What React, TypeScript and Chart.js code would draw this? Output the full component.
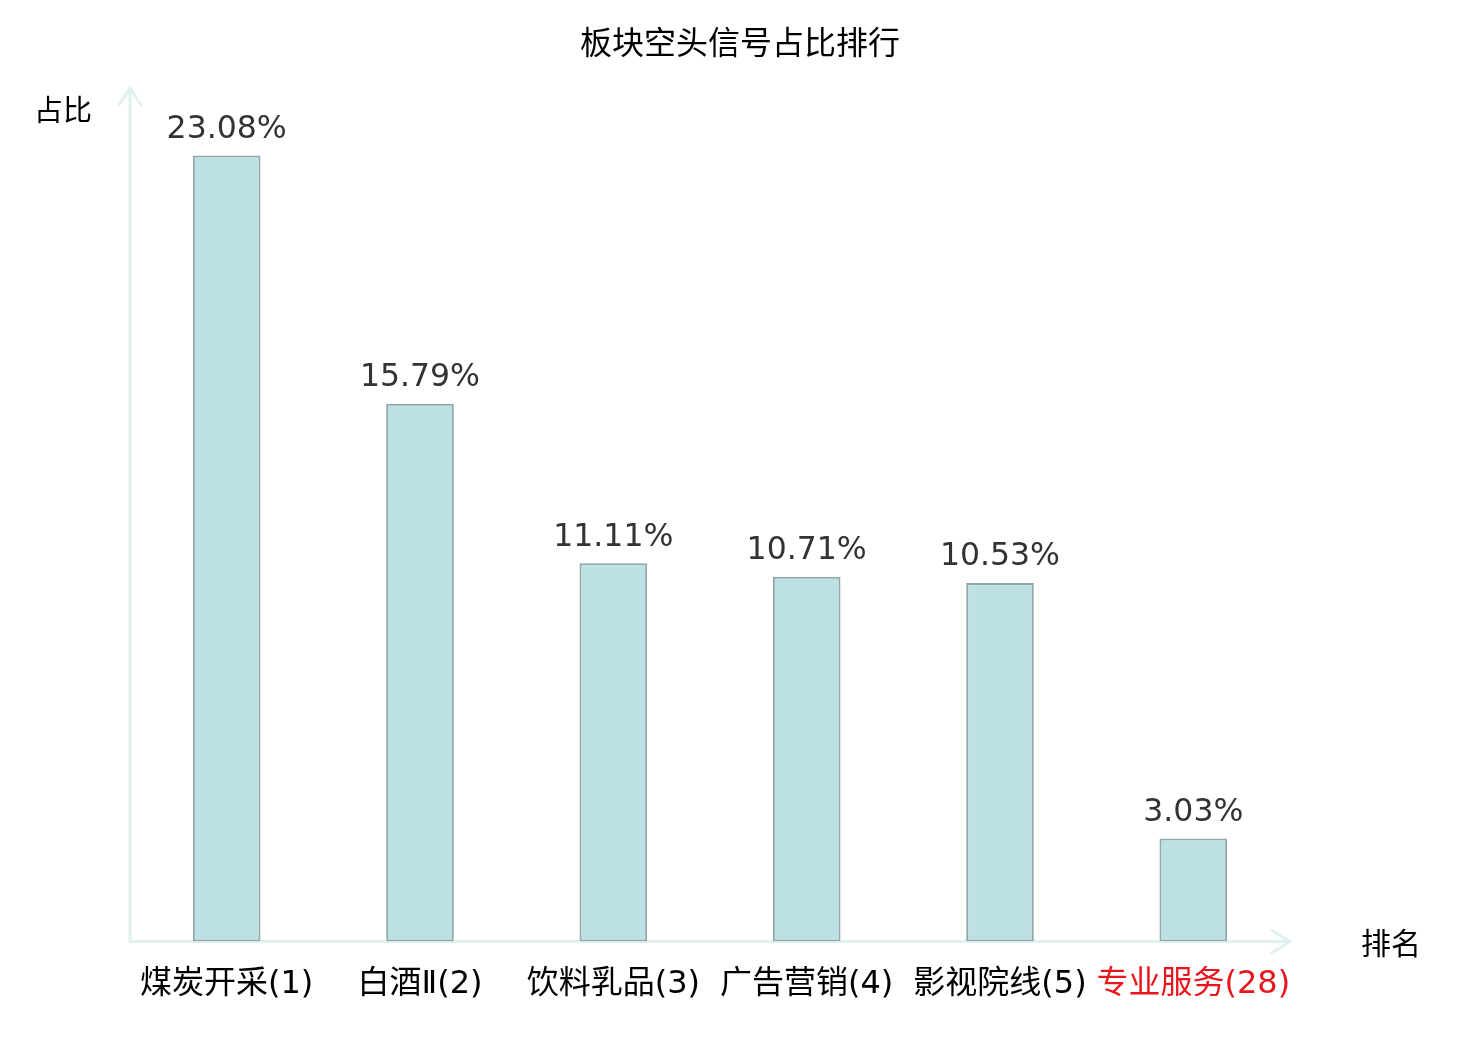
import { useEffect, useRef } from "react";
import { Chart, registerables } from "chart.js";
import type { Plugin } from "chart.js";

Chart.register(...registerables);

const sectors = ["煤炭开采(1)", "白酒Ⅱ(2)", "饮料乳品(3)", "广告营销(4)", "影视院线(5)", "专业服务(28)"];
const shares = [23.08, 15.79, 11.11, 10.71, 10.53, 3.03];
const highlight = [false, false, false, false, false, true];

const CJK = '"Noto Sans CJK SC", sans-serif';
const NUM = '"DejaVu Sans", "Noto Sans CJK SC", sans-serif';
const AXIS = "#dff2ef";

// 坐标轴 + 箭头，画在柱子下面；标题和轴名画在最上层
const arrowAxes: Plugin<"bar"> = {
  id: "arrowAxes",
  beforeDatasetsDraw(chart) {
    const { ctx, chartArea: a } = chart;
    ctx.save();
    ctx.strokeStyle = AXIS;
    ctx.lineWidth = 3;
    ctx.lineCap = "round";
    ctx.beginPath();
    ctx.moveTo(a.left, a.bottom);
    ctx.lineTo(a.right, a.bottom);
    ctx.moveTo(a.right - 18, a.bottom - 11);
    ctx.lineTo(a.right, a.bottom);
    ctx.lineTo(a.right - 18, a.bottom + 11);
    ctx.moveTo(a.left, a.bottom);
    ctx.lineTo(a.left, a.top - 2);
    ctx.moveTo(a.left - 11, a.top + 15);
    ctx.lineTo(a.left, a.top - 2);
    ctx.lineTo(a.left + 11, a.top + 15);
    ctx.stroke();
    ctx.restore();
  },
  afterDraw(chart) {
    const { ctx, chartArea: a, width } = chart;
    ctx.save();
    ctx.fillStyle = "#000";
    ctx.textAlign = "center";
    ctx.textBaseline = "middle";
    ctx.font = `32px ${CJK}`;
    ctx.fillText("板块空头信号占比排行", width / 2, 42);
    ctx.font = `29px ${CJK}`;
    ctx.fillText("占比", a.left - 67, a.top + 20);
    ctx.font = `30px ${CJK}`;
    ctx.fillText("排名", a.right + 101, a.bottom + 1);
    ctx.restore();
  },
};

const valueLabels: Plugin<"bar"> = {
  id: "valueLabels",
  afterDatasetsDraw(chart) {
    const { ctx } = chart;
    const meta = chart.getDatasetMeta(0);
    ctx.save();
    ctx.fillStyle = "#333";
    ctx.font = `31.5px ${NUM}`;
    ctx.textAlign = "center";
    ctx.textBaseline = "bottom";
    meta.data.forEach((bar, i) => {
      ctx.fillText(`${shares[i].toFixed(2)}%`, bar.x, bar.y - 10);
    });
    ctx.restore();
  },
};

export default function App() {
  const ref = useRef<HTMLCanvasElement>(null);

  useEffect(() => {
    document.body.style.margin = "0";
    if (!ref.current) return;
    const chart = new Chart(ref.current, {
      type: "bar",
      data: {
        labels: sectors,
        datasets: [
          {
            data: shares,
            backgroundColor: "#bce0e3",
            borderColor: "#8fa9aa",
            borderWidth: 2,
            borderSkipped: false,
            barPercentage: 0.35,
            categoryPercentage: 1,
          },
        ],
      },
      options: {
        animation: false,
        responsive: false,
        devicePixelRatio: 1,
        layout: { padding: { top: 90, left: 130, right: 190, bottom: 20 } },
        plugins: {
          legend: { display: false },
          tooltip: { enabled: false },
          title: { display: false },
        },
        scales: {
          x: {
            grid: { display: false },
            border: { display: false },
            ticks: {
              autoSkip: false,
              maxRotation: 0,
              minRotation: 0,
              padding: 16,
              font: { family: NUM, size: 32 },
              color: (c) => (highlight[c.index] ? "#e8161c" : "#000"),
            },
          },
          y: { display: false, min: 0, max: 25 },
        },
      },
      plugins: [arrowAxes, valueLabels],
    });
    return () => chart.destroy();
  }, []);

  return (
    <div style={{ width: 1480, height: 1040, background: "#fff" }}>
      <canvas ref={ref} width={1480} height={1040} />
    </div>
  );
}
